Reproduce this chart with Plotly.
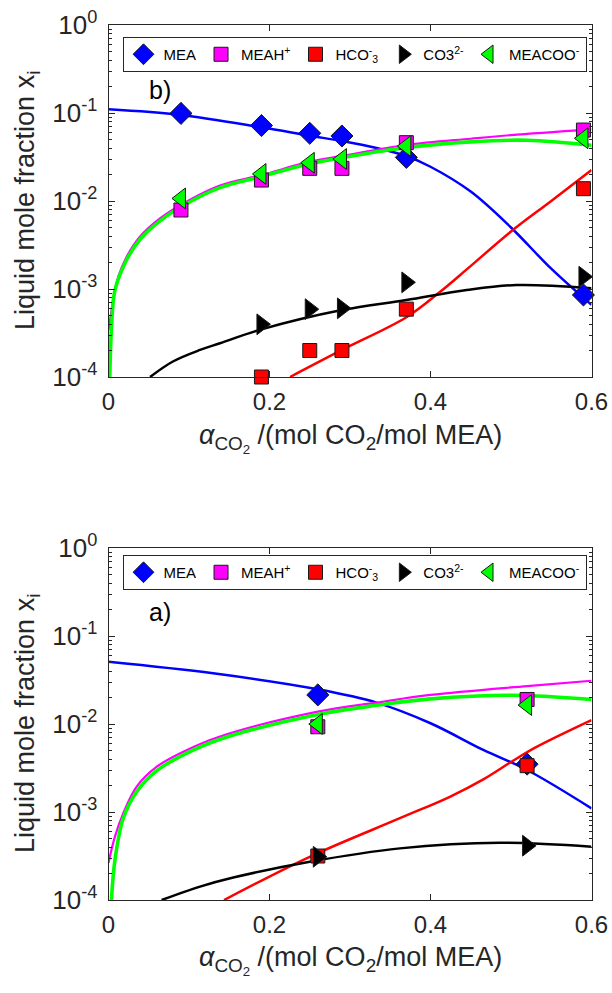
import plotly.graph_objects as go

W, H = 612, 993
FONT = "Liberation Sans, Arial, Helvetica, sans-serif"
AXC = "#262626"

# ---------- panel b) : measured points ----------
b_alpha = [0.09, 0.19, 0.25, 0.29, 0.37, 0.59]
b_mea = [0.099, 0.072, 0.0588, 0.0548, 0.0313, 8.55e-4]
b_meah = [0.0079, 0.0173, 0.0235, 0.0235, 0.046, 0.064]
b_alpha_ion = [0.19, 0.25, 0.29, 0.37, 0.59]
b_hco3 = [1.0e-4, 2.0e-4, 2.0e-4, 5.9e-4, 0.0138]
b_co3 = [3.97e-4, 5.9e-4, 6.03e-4, 1.19e-3, 1.38e-3]
b_meacoo = [0.0107, 0.0203, 0.0272, 0.030, 0.042, 0.0516]

# ---------- panel b) : model curves ----------
bc_mea_x = [0.0, 0.09, 0.19, 0.25, 0.29, 0.333, 0.37, 0.40, 0.45, 0.50, 0.55, 0.60]
bc_mea_y = [0.110, 0.095, 0.0687, 0.0552, 0.048, 0.040, 0.0325, 0.0245, 0.0128, 0.0050, 0.0017, 6.6e-4]
bc_meah_x = [0.0, 0.006, 0.0122, 0.0226, 0.039, 0.064, 0.093, 0.1385, 0.19, 0.25, 0.29, 0.37, 0.45, 0.50, 0.60]
bc_meah_y = [3.4e-4, 7.5e-4, 1.38e-3, 2.33e-3, 3.93e-3, 6.35e-3, 9.4e-3, 0.0150, 0.0197, 0.028, 0.0325, 0.0433, 0.051, 0.056, 0.065]
bc_meacoo_x = [0.0015, 0.004, 0.008, 0.0226, 0.039, 0.064, 0.093, 0.1385, 0.19, 0.25, 0.29, 0.37, 0.45, 0.52, 0.60]
bc_meacoo_y = [0.95e-4, 4.1e-4, 9.7e-4, 2.15e-3, 3.65e-3, 5.95e-3, 8.9e-3, 0.0142, 0.019, 0.0265, 0.031, 0.0405, 0.047, 0.049, 0.043]
bc_hco3_x = [0.2255, 0.29, 0.37, 0.412, 0.445, 0.50, 0.55, 0.60]
bc_hco3_y = [1.0e-4, 2.03e-4, 4.77e-4, 9.3e-4, 1.67e-3, 4.5e-3, 0.0100, 0.0225]
bc_co3_x = [0.0516, 0.08, 0.1137, 0.1385, 0.19, 0.29, 0.37, 0.445, 0.507, 0.60]
bc_co3_y = [1.0e-4, 1.5e-4, 2.03e-4, 2.42e-4, 3.48e-4, 5.77e-4, 7.5e-4, 9.75e-4, 1.11e-3, 1.02e-3]

# ---------- panel a) : measured points ----------
a_alpha = [0.26, 0.52]
a_mea = [0.0214, 3.5e-3]
a_meah = [0.0093, 0.019]
a_hco3 = [3.16e-4, 3.36e-3]
a_co3 = [3.1e-4, 4.14e-4]
a_meacoo = [0.0100, 0.0164]

# ---------- panel a) : model curves ----------
ac_mea_x = [0.0, 0.13, 0.26, 0.333, 0.40, 0.4656, 0.52, 0.60]
ac_mea_y = [0.051, 0.0377, 0.0248, 0.0175, 0.0102, 5.07e-3, 3.0e-3, 1.1e-3]
ac_meah_x = [0.0, 0.008, 0.0184, 0.035, 0.06, 0.093, 0.1385, 0.26, 0.333, 0.40, 0.52, 0.60]
ac_meah_y = [2.65e-4, 5.25e-4, 9.7e-4, 1.94e-3, 3.27e-3, 4.84e-3, 7.2e-3, 0.0138, 0.0175, 0.0214, 0.027, 0.031]
ac_meacoo_x = [0.0035, 0.008, 0.0184, 0.035, 0.06, 0.093, 0.1385, 0.26, 0.333, 0.40, 0.50, 0.60]
ac_meacoo_y = [0.95e-4, 2.85e-4, 8.5e-4, 1.7e-3, 2.95e-3, 4.45e-3, 6.7e-3, 0.0128, 0.0163, 0.0193, 0.0212, 0.019]
ac_hco3_x = [0.1435, 0.25, 0.362, 0.424, 0.4656, 0.50, 0.53, 0.60]
ac_hco3_y = [1.0e-4, 3.1e-4, 8.5e-4, 1.49e-3, 2.35e-3, 3.7e-3, 5.4e-3, 0.0111]
ac_co3_x = [0.066, 0.1137, 0.155, 0.25, 0.362, 0.486, 0.60]
ac_co3_y = [1.0e-4, 1.42e-4, 1.8e-4, 2.72e-4, 3.86e-4, 4.48e-4, 4.04e-4]

species = ["MEA", "MEAH<sup>+</sup>", "HCO<sup>-</sup><sub>3</sub>", "CO3<sup>2-</sup>", "MEACOO<sup>-</sup>"]
colors = ["#0000FF", "#FF00FF", "#FF0000", "#000000", "#00FF00"]
symbols = ["diamond", "square", "square", "triangle-right", "triangle-left"]
msizes = [17, 14, 14, 18, 18]
lwidths = [2.5, 2.2, 2.5, 2.5, 3.6]
x_ticks = [0, 0.2, 0.4, 0.6]
y_ticks = [1e-4, 1e-3, 1e-2, 1e-1, 1]
y_ticktext = ["10<sup>-4</sup>", "10<sup>-3</sup>", "10<sup>-2</sup>", "10<sup>-1</sup>", "10<sup>0</sup>"]
y_minor = [m * 10 ** e for e in range(-4, 0) for m in range(2, 10)]

fig = go.Figure()


def add_panel(xa, ya, legend, curves, points):
    for (cx, cy), col, lw in zip(curves, colors, lwidths):
        fig.add_trace(go.Scatter(x=cx, y=cy, mode="lines", line=dict(color=col, width=lw, shape="spline", smoothing=1.0),
                                 xaxis=xa, yaxis=ya, showlegend=False, hoverinfo="skip"))
    for (px, py), name, col, sym, ms in zip(points, species, colors, symbols, msizes):
        fig.add_trace(go.Scatter(x=px, y=py, mode="markers", name=name, legend=legend,
                                 marker=dict(symbol=sym, size=ms, color=col, line=dict(color="#1a1a1a", width=1)),
                                 cliponaxis=False, xaxis=xa, yaxis=ya))


add_panel("x", "y", "legend",
          [(bc_mea_x, bc_mea_y), (bc_meah_x, bc_meah_y), (bc_hco3_x, bc_hco3_y), (bc_co3_x, bc_co3_y), (bc_meacoo_x, bc_meacoo_y)],
          [(b_alpha, b_mea), (b_alpha, b_meah), (b_alpha_ion, b_hco3), (b_alpha_ion, b_co3), (b_alpha, b_meacoo)])
add_panel("x2", "y2", "legend2",
          [(ac_mea_x, ac_mea_y), (ac_meah_x, ac_meah_y), (ac_hco3_x, ac_hco3_y), (ac_co3_x, ac_co3_y), (ac_meacoo_x, ac_meacoo_y)],
          [(a_alpha, a_mea), (a_alpha, a_meah), (a_alpha, a_hco3), (a_alpha, a_co3), (a_alpha, a_meacoo)])

X0, X1 = 108.5, 591.5
TOP = (25, 377)
BOT = (548, 900)


def ydom(p):
    return [1 - p[1] / H, 1 - p[0] / H]


xdom = [X0 / W, X1 / W]

xaxis_style = dict(range=[0, 0.6], tickvals=x_ticks, ticktext=["0", "0.2", "0.4", "0.6"], ticks="inside", ticklen=6,
                   tickcolor=AXC, showline=True, linecolor=AXC, linewidth=1, mirror="ticks", showgrid=False,
                   zeroline=False, tickfont=dict(size=24, color=AXC, family=FONT), domain=xdom, automargin=False,
                   ticklabelstandoff=3)
yaxis_style = dict(type="log", range=[-4, 0], tickvals=y_ticks, ticktext=y_ticktext, ticks="inside", ticklen=6,
                   tickcolor=AXC, showline=True, linecolor=AXC, linewidth=1, mirror="ticks", showgrid=False,
                   zeroline=False, tickfont=dict(size=26, color=AXC, family=FONT), automargin=False,
                   ticklabelstandoff=5,
                   minor=dict(tickmode="array", tickvals=y_minor, ticks="inside", ticklen=3, tickcolor=AXC))

fig.update_layout(
    width=W, height=H, autosize=False, margin=dict(l=0, r=0, t=0, b=0, autoexpand=False),
    paper_bgcolor="white", plot_bgcolor="white", font=dict(family=FONT, color=AXC),
    xaxis=dict(xaxis_style, anchor="y"),
    yaxis=dict(yaxis_style, domain=ydom(TOP), anchor="x"),
    xaxis2=dict(xaxis_style, anchor="y2"),
    yaxis2=dict(yaxis_style, domain=ydom(BOT), anchor="x2"),
)

legend_style = dict(orientation="h", x=(126 + 583) / 2 / W, xanchor="center", yanchor="top",
                    bordercolor=AXC, borderwidth=1, bgcolor="white",
                    font=dict(size=15, color="black", family=FONT), itemclick=False)
fig.update_layout(legend=dict(legend_style, y=1 - 37 / H), legend2=dict(legend_style, y=1 - 555 / H))

xtitle = "<i>α</i><sub>CO<sub>2</sub></sub> /(mol CO<sub>2</sub>/mol MEA)"
ytitle = "Liquid mole fraction x<sub>i</sub>"
annotations = []
for (t, b), tag, tag_y, xt_y in [(TOP, "b)", 90, 438), (BOT, "a)", 612, 960)]:
    annotations.append(dict(text=ytitle, x=27 / W, y=1 - (t + b) / 2 / H, xref="paper", yref="paper",
                            textangle=-90, showarrow=False, font=dict(size=27, color=AXC, family=FONT),
                            xanchor="center", yanchor="middle"))
    annotations.append(dict(text=xtitle, x=350 / W, y=1 - xt_y / H, xref="paper", yref="paper",
                            showarrow=False, font=dict(size=27, color=AXC, family=FONT),
                            xanchor="center", yanchor="middle"))
    annotations.append(dict(text=tag, x=160 / W, y=1 - tag_y / H, xref="paper", yref="paper",
                            showarrow=False, font=dict(size=25, color="black", family=FONT),
                            xanchor="center", yanchor="middle"))
fig.update_layout(annotations=annotations)

fig.write_html("out.html")
